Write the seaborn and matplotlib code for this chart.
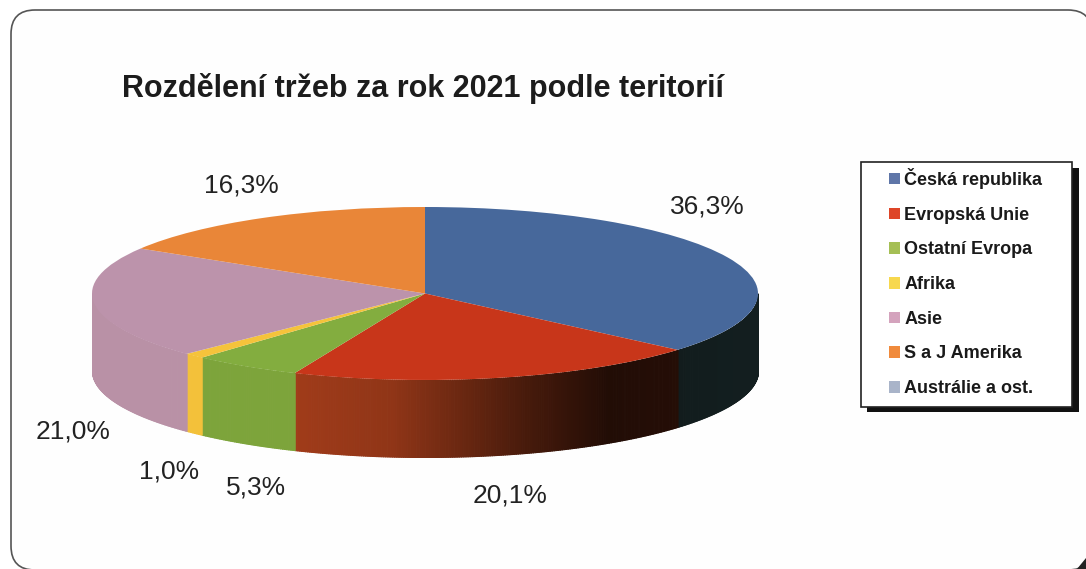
import numpy as np
import matplotlib
matplotlib.use("Agg")
import matplotlib.pyplot as plt
from matplotlib.colors import to_rgb
from matplotlib.patches import FancyBboxPatch, Rectangle
import seaborn as sns

# data
territories = ["Česká republika", "Evropská Unie", "Ostatní Evropa", "Afrika",
               "Asie", "S a J Amerika", "Austrálie a ost."]
shares = [36.3, 20.1, 5.3, 1.0, 21.0, 16.3, 0.0]
share_labels = ["36,3%", "20,1%", "5,3%", "1,0%", "21,0%", "16,3%"]
title = "Rozdělení tržeb za rok 2021 podle teritorií"

top_colors = ["#47689b", "#c8361a", "#83ad3f", "#f5c33b", "#bc93ab", "#e98638", "#a9b2c6"]
# the wall of the blue slice goes greenish black in the scan
wall_colors = ["#5f9a9f", "#c84a20", "#7ea63c", "#f5c33b", "#bb92a8", "#e98638", "#a9b2c6"]
legend_colors = ["#5f76a8", "#de4528", "#a5bf55", "#f7d84e", "#d4a3bd", "#f08a3c", "#a9b4c9"]

W, H = 1086, 569

sns.set_theme(style="white")
plt.rcParams["font.family"] = ["Liberation Sans", "DejaVu Sans"]
palette = sns.color_palette(top_colors)

fig = plt.figure(figsize=(W / 100, H / 100), dpi=100, facecolor="white")

# background axes in pixels, y pointing down
bg = fig.add_axes([0, 0, 1, 1])
bg.set_xlim(0, W)
bg.set_ylim(H, 0)
bg.axis("off")

bg.add_patch(FancyBboxPatch((11, 10), 1081, 560, boxstyle="round,pad=0,rounding_size=24",
                            fc="#fefefe", ec="#555555", lw=1.2))
bg.fill([1086, 1086, 1077], [558, 569, 569], color="#222222", lw=0)  # scan shadow in the corner
bg.text(122, 88, title, fontsize=22, fontweight="bold", color="#1c1c1c", va="center", ha="left")

# legend frame and shadow
bg.add_patch(Rectangle((867, 168), 212, 244, fc="#111111", ec="none"))
bg.add_patch(Rectangle((861, 162), 211, 245, fc="white", ec="#222222", lw=1.2))

# pie axes: unit circle squashed onto the ellipse of the top face
cx_left, cx_right = 92, 758
face_top, face_bottom, wall = 207, 380, 77
ry = (face_bottom - face_top) / 2
depth = wall / ry
ax = fig.add_axes([cx_left / W, 1 - (face_bottom + wall) / H,
                   (cx_right - cx_left) / W, (face_bottom + wall - face_top) / H])
ax.patch.set_alpha(0)

wedges, _ = ax.pie(shares, colors=palette, startangle=90, counterclock=False, frame=True,
                   wedgeprops={"linewidth": 0})

# side wall, cut in thin strips so the shading can run along it
edges = np.cumsum([0] + shares) / 100 * 2 * np.pi
for i in range(len(shares)):
    start = max(edges[i], np.pi / 2)
    stop = min(edges[i + 1], 3 * np.pi / 2)
    if stop <= start:
        continue
    t = np.linspace(start, stop, max(int((stop - start) * 150), 2))
    x = np.sin(t)
    y = np.cos(t)
    shade = np.interp(x, [-1, -0.39, -0.385, -0.1, 0.3, 0.55, 1],
                      [0.99, 0.99, 0.8, 0.72, 0.36, 0.17, 0.2])
    base = np.array(to_rgb(wall_colors[i]))
    for j in range(len(t) - 1):
        c = base * shade[j]
        ax.fill_between(x[j:j + 2], y[j:j + 2] - depth, y[j:j + 2],
                        facecolor=c, edgecolor=c, lw=0.8, zorder=0.5)

ax.set_xlim(-1, 1)
ax.set_ylim(-1 - depth, 1)
ax.set_aspect("auto")
ax.axis("off")

# percentage labels
label_x = [707, 510, 256, 169, 73, 241]
label_y = [207, 495, 487, 472, 431, 186]
for s, lx, ly in zip(share_labels, label_x, label_y):
    fig.text(lx / W, 1 - ly / H, s, fontsize=19, color="#222222", ha="center", va="center")

# legend
handles = [Rectangle((0, 0), 1, 1, fc=c, ec="none") for c in legend_colors]
leg = fig.legend(handles, territories, loc="upper left",
                 bbox_to_anchor=(889 / W, 1 - 168 / H), bbox_transform=fig.transFigure,
                 frameon=False, prop={"weight": "bold", "size": 13},
                 borderpad=0, borderaxespad=0,
                 handlelength=0.61, handleheight=0.61, handletextpad=0.24,
                 labelspacing=0.98, labelcolor="#1a1a1a")

fig.savefig("out.png", dpi=100)
